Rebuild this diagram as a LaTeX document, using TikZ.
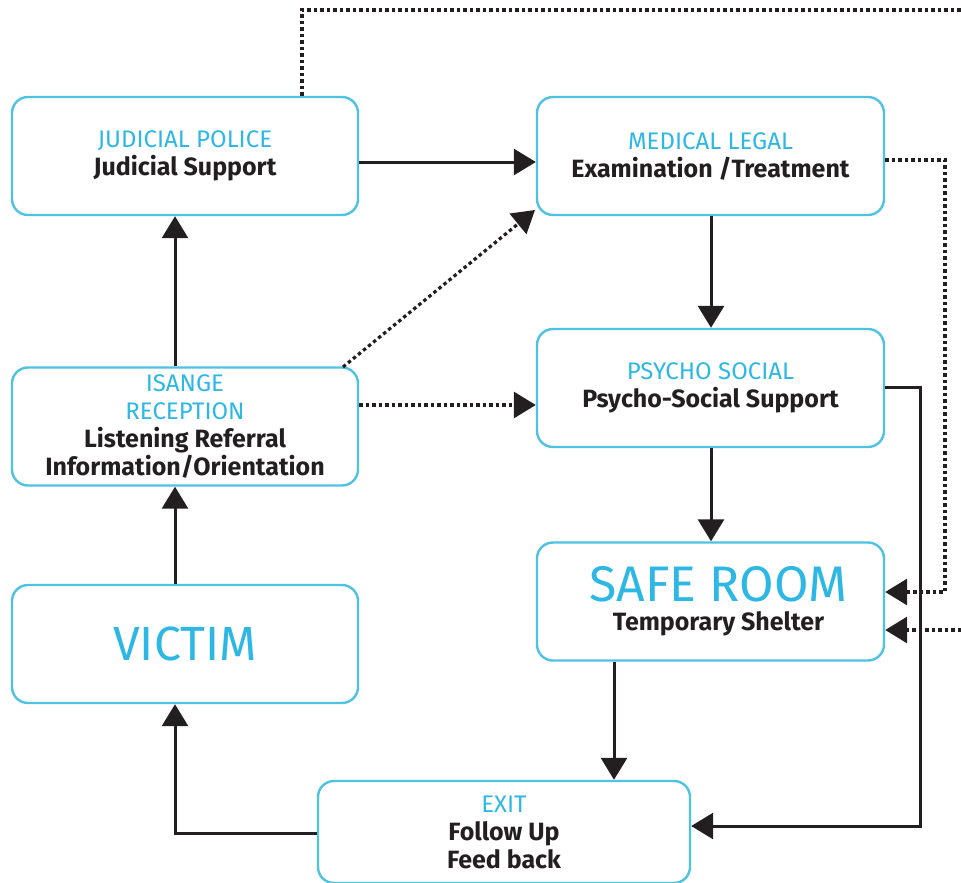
\documentclass[tikz,border=0pt]{standalone}
\usepackage{fontspec}
\setmainfont{Fira Sans}
\usetikzlibrary{arrows.meta,calc}
\definecolor{boxline}{HTML}{4EC2E2}
\definecolor{headcol}{HTML}{2DB7E4}
\definecolor{inkcol}{HTML}{231F20}
\tikzset{
  box/.style={draw=boxline, line width=2.4pt, rounded corners=16pt,
    minimum width=346pt, minimum height=118pt, align=center,
    text=inkcol, inner sep=0pt},
  body/.style={font=\fontsize{25}{28}\selectfont\bfseries},
  arr/.style={draw=inkcol, line width=3pt,
    -{Triangle[length=22pt,width=26pt]}},
  dots/.style={draw=inkcol, line width=3.2pt, dash pattern=on 3.5pt off 3pt},
  dotarr/.style={dots, -{Triangle[length=22pt,width=26pt]}}
}
\newcommand{\hd}[1]{{\color{headcol}\mdseries\fontsize{24}{28}\selectfont #1}}
\begin{document}
\begin{tikzpicture}[x=1pt,y=-1pt]
\useasboundingbox (0,0) rectangle (961,883);

% boxes
\node[box, body] (jp) at (185,156)
  {\hd{JUDICIAL POLICE}\\Judicial Support};
\node[box, body, minimum width=347pt] (ml) at (710.5,156)
  {\hd{MEDICAL LEGAL}\\Examination /Treatment};
\node[box, body] (is) at (185,426.5)
  {\hd{ISANGE}\\\hd{RECEPTION}\\Listening Referral\\Information/Orientation};
\node[box, body, minimum width=347pt] (ps) at (710.5,388)
  {\hd{PSYCHO SOCIAL}\\Psycho-Social Support};
\node[box, text=headcol, font=\fontsize{48}{48}\selectfont] (vi) at (185,644) {VICTIM};
\node[box, minimum width=347pt, font=\fontsize{25}{29}\selectfont\bfseries] (sr) at (710.5,601.5)
  {\hspace*{16pt}{\color{headcol}\mdseries\fontsize{50}{29}\selectfont SAFE ROOM}\\\hspace*{16pt}Temporary Shelter};
\node[box, body, minimum width=372pt, minimum height=102pt] (ex) at (504,832)
  {\hd{EXIT}\\Follow Up\\Feed back};

% solid connectors
\draw[arr] ($(jp.east)+(0,6)$) -- ($(ml.west)+(0,6)$);
\draw[arr] (is.north -| 175,0) -- (jp.south -| 175,0);
\draw[arr] (vi.north -| 175,0) -- (is.south -| 175,0);
\draw[arr] (ml.south -| 711,0) -- (ps.north -| 711,0);
\draw[arr] (ps.south -| 711,0) -- (sr.north -| 711,0);
\draw[arr] (sr.south -| 614,0) -- (ex.north -| 614,0);
\draw[arr] (ps.east |- 0,387) -| (920,826) -- (ex.east |- 0,826);
\draw[arr] (ex.west |- 0,833) -| (vi.south -| 175,0);

% dotted connectors
\coordinate (tr) at (961,10);
\coordinate (rr) at (961,630);
\draw[dotarr] (343,367) -- (535,210);
\draw[dotarr] (is.east |- 0,405) -- (ps.west |- 0,405);
\draw[dotarr] (ml.east |- 0,160) -| (945,592) -- (sr.east |- 0,592);
\draw[dots] (jp.north -| 302,0) |- (tr);
\draw[dotarr] (rr) -- (sr.east |- 0,630);
\end{tikzpicture}
\end{document}
